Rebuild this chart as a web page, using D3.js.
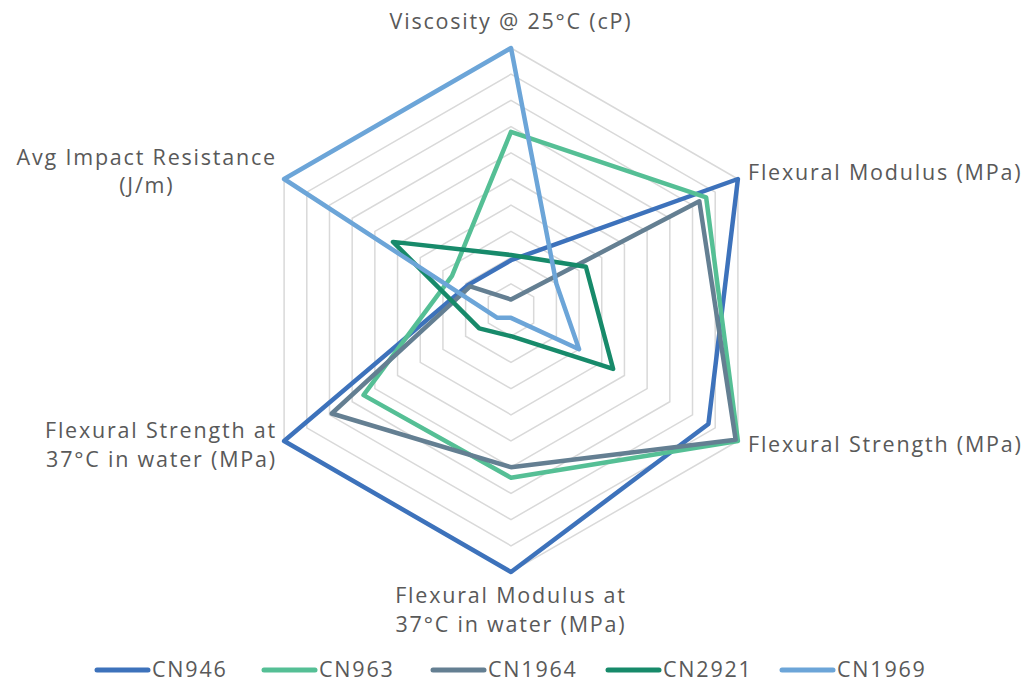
<!DOCTYPE html>
<html><head><meta charset="utf-8">
<script src="https://cdn.jsdelivr.net/npm/d3@7/dist/d3.min.js"></script>
<style>
html,body{margin:0;padding:0;background:#fff;}
text{font-family:"Open Sans",sans-serif;fill:#595959;letter-spacing:1.8px;}
</style></head>
<body>
<svg id="chart" width="1026" height="683"></svg>
<script>
const axes = ["Viscosity @ 25°C (cP)", "Flexural Modulus (MPa)", "Flexural Strength (MPa)",
  "Flexural Modulus at 37°C in water (MPa)", "Flexural Strength at 37°C in water (MPa)", "Avg Impact Resistance (J/m)"];
const seriesNames = ["CN946", "CN963", "CN1964", "CN2921", "CN1969"];
const cn946  = [0.19, 1.00, 0.87, 1.00, 1.00, 0.19];
const cn963  = [0.68, 0.86, 1.00, 0.64, 0.65, 0.26];
const cn1964 = [0.04, 0.83, 0.99, 0.60, 0.79, 0.18];
const cn2921 = [0.21, 0.33, 0.45, 0.10, 0.14, 0.52];
const cn1969 = [1.00, 0.20, 0.30, 0.03, 0.06, 1.00];
const gridLevels = [0.1,0.2,0.3,0.4,0.5,0.6,0.7,0.8,0.9,1.0];
const colors = ["#3d72bb", "#55bf95", "#647f92", "#178a6a", "#6ca5d8"];

const data = [cn946, cn963, cn1964, cn2921, cn1969];
const svg = d3.select("#chart");
const cx = 511, cy = 310, R = 262;
const r = d3.scaleLinear().domain([0, 1]).range([0, R]);
const ang = d3.scaleLinear().domain([0, axes.length]).range([0, 2 * Math.PI]);

const g = svg.append("g").attr("transform", `translate(${cx},${cy})`);
const radial = d3.lineRadial().angle((d, i) => ang(i)).radius(d => r(d)).curve(d3.curveLinearClosed);

g.selectAll("path.grid").data(gridLevels).join("path")
  .attr("class", "grid")
  .attr("d", lv => radial(axes.map(() => lv)))
  .attr("fill", "none").attr("stroke", "#d9d9d9").attr("stroke-width", 1.5);

g.selectAll("path.series").data(data).join("path")
  .attr("class", "series")
  .attr("d", d => radial(d))
  .attr("fill", "none")
  .attr("stroke", (d, i) => colors[i])
  .attr("stroke-width", 4.5)
  .attr("stroke-linejoin", "round");

// Axis labels
const fs = 21.5;
const lab = svg.append("g").attr("font-size", fs);
function txt(x, y, s, anchor) {
  return lab.append("text").attr("x", x).attr("y", y).attr("text-anchor", anchor).text(s);
}
txt(511, 29, "Viscosity @ 25°C (cP)", "middle");
txt(748, 180, "Flexural Modulus (MPa)", "start");
txt(748, 452, "Flexural Strength (MPa)", "start");
txt(511, 603, "Flexural Modulus at", "middle");
txt(511, 632, "37°C in water (MPa)", "middle");
txt(277, 438, "Flexural Strength at", "end");
txt(277, 467, "37°C in water (MPa)", "end");
const ai = txt(277, 165, "Avg Impact Resistance", "end");
const w = ai.node().getComputedTextLength();
txt(277 - w / 2, 193, "(J/m)", "middle");

// Legend
const legX = [95, 262, 431, 606, 780];
const leg = svg.append("g").attr("font-size", fs);
seriesNames.forEach((n, i) => {
  leg.append("line").attr("x1", legX[i] + 2).attr("x2", legX[i] + 53).attr("y1", 670).attr("y2", 670)
    .attr("stroke", colors[i]).attr("stroke-width", 5).attr("stroke-linecap", "round");
  leg.append("text").attr("x", legX[i] + 57).attr("y", 677).text(n);
});
</script>
</body></html>
